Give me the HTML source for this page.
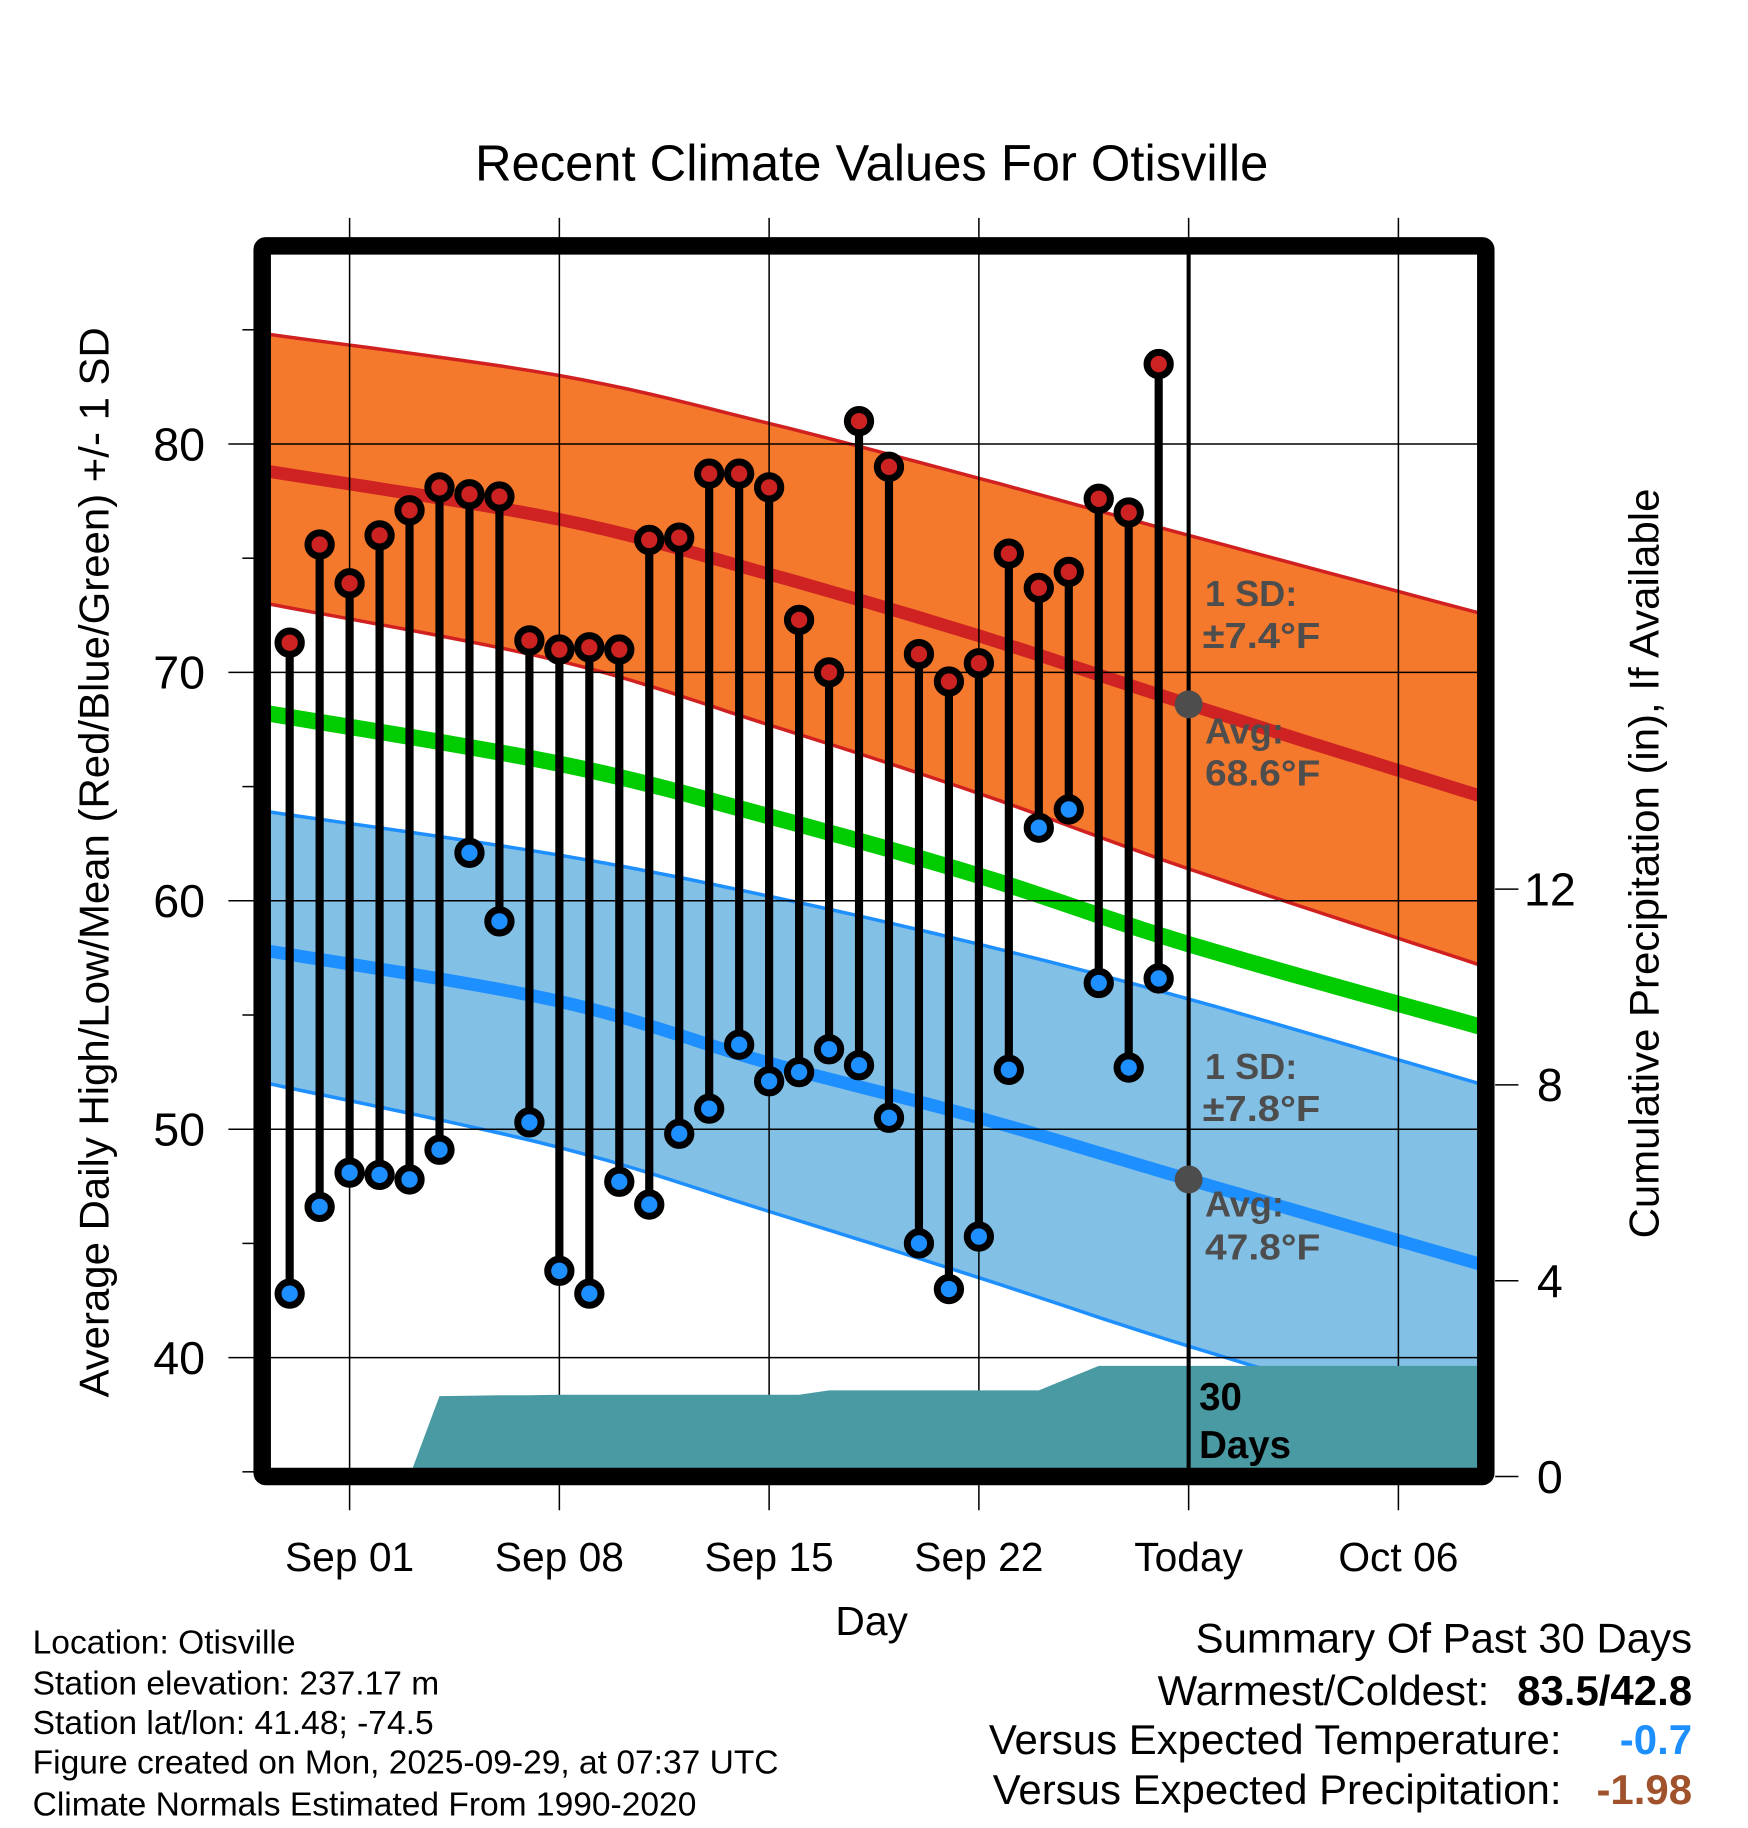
<!DOCTYPE html>
<html><head><meta charset="utf-8"><style>
html,body{margin:0;padding:0;background:#fff;}
svg{display:block;font-family:"Liberation Sans",Arial,sans-serif;}
</style></head><body>
<svg id="chart" width="1748" height="1828" viewBox="0 0 1500 1568.65" xmlns="http://www.w3.org/2000/svg">
<rect x="0" y="0" width="1500" height="1568.65" fill="#fff"/>
<g id="bands"></g><g id="grid"></g><g id="precip"></g><g id="lines"></g><g id="stems"></g><g id="labels"></g><g id="frame"></g>
</svg>
<script>
// ---- data ----
const dayOffsets = [-2,-1,0,1,2,3,4,5,6,7,8,9,10,11,12,13,14,15,16,17,18,19,20,21,22,23,24,25,26,27];
const highs = [71.3,75.6,73.9,76.0,77.1,78.1,77.8,77.7,71.4,71.0,71.1,71.0,75.8,75.9,78.7,78.7,78.1,72.3,70.0,81.0,79.0,70.8,69.6,70.4,75.2,73.7,74.4,77.6,77.0,83.5];
const lows = [42.8,46.6,48.1,48.0,47.8,49.1,62.1,59.1,50.3,43.8,42.8,47.7,46.7,49.8,50.9,53.7,52.1,52.5,53.5,52.8,50.5,45.0,43.0,45.3,52.6,63.2,64.0,56.4,52.7,56.6];
const precipCum = [0,0,0,0,0,1.64,1.65,1.66,1.66,1.67,1.67,1.67,1.67,1.67,1.67,1.67,1.67,1.67,1.76,1.76,1.76,1.76,1.76,1.76,1.76,1.76,2.01,2.26,2.26,2.26];
const normalDays = [-2.7,7,14,21,28,37.7];
const normHighUpper = [84.8,83.0,80.9,78.5,76.0,72.6];
const normHigh = [78.8,76.7,74.3,71.6,68.6,64.6];
const normHighLower = [73.0,70.5,67.7,64.7,61.4,57.2];
const normMean = [68.2,66.0,63.7,61.1,58.1,54.5];
const normLowUpper = [63.9,62.0,60.2,58.1,55.7,52.0];
const normLow = [57.8,55.6,52.9,50.5,47.8,44.1];
const normLowLower = [52.0,49.2,46.4,43.5,40.5,36.7];
const xTickDays = [0,7,14,21,28,35];
const xTickLabels = ["Sep 01","Sep 08","Sep 15","Sep 22","Today","Oct 06"];
const yTicks = [40,50,60,70,80];
const yMinorTicks = [35,45,55,65,75,85];
const precipTicks = [0,4,8,12];

// ---- axes ----
const PL=232,PR=1268,PT=218,PB=1260;
const x = d => 300 + d*180/7;
const y = v => 381 + (80-v)*19.6;
const yp = p => 1267 - p*42;
const NS="http://www.w3.org/2000/svg";
function mk(tag, attrs, parent){const e=document.createElementNS(NS,tag);for(const k in attrs)e.setAttribute(k,attrs[k]);document.getElementById(parent).appendChild(e);return e;}
function clip(){return 'url(#pc)';}
const defs=mk('defs',{},'chart');
const cp=document.createElementNS(NS,'clipPath');cp.setAttribute('id','pc');
const cr=document.createElementNS(NS,'rect');cr.setAttribute('x',PL);cr.setAttribute('y',PT);cr.setAttribute('width',PR-PL);cr.setAttribute('height',PB-PT);cp.appendChild(cr);defs.appendChild(cp);
document.getElementById('chart').insertBefore(defs,document.getElementById('bands'));

// smooth curve samples (Catmull-Rom) through the normal points
function smooth(arr){
  const P=normalDays.map((d,i)=>[x(d),y(arr[i])]);
  const out=[];
  for(let i=0;i<P.length-1;i++){
    const p0=P[Math.max(0,i-1)],p1=P[i],p2=P[i+1],p3=P[Math.min(P.length-1,i+2)];
    for(let t=0;t<1;t+=0.1){
      const t2=t*t,t3=t2*t;
      const f=(a,b,c,d)=>0.5*((2*b)+(-a+c)*t+(2*a-5*b+4*c-d)*t2+(-a+3*b-3*c+d)*t3);
      out.push([f(p0[0],p1[0],p2[0],p3[0]),f(p0[1],p1[1],p2[1],p3[1])]);
    }
  }
  out.push(P[P.length-1]);
  return out.map(p=>p[0].toFixed(1)+','+p[1].toFixed(1));
}
function band(up,lo,fill,name){
  const p=smooth(up).concat(smooth(lo).reverse()).join(' ');
  const e=mk('polygon',{points:p,fill:fill,'clip-path':clip()},'bands');
  
  
}
band(normHighUpper,normHighLower,'#f5792c','high-sd-band');
band(normLowUpper,normLowLower,'#83c0e6','low-sd-band');
function line(arr,color,w,name){
  const e=mk('polyline',{points:smooth(arr).join(' '),fill:'none',stroke:color,'stroke-width':w,'clip-path':clip()},'bands');
  
  
}
line(normHighUpper,'#d02020',3,'high-upper-line');
line(normHighLower,'#d02020',3,'high-lower-line');
line(normLowUpper,'#1e8fff',3,'low-upper-line');
line(normLowLower,'#1e8fff',3,'low-lower-line');
line(normHigh,'#cf2222',11,'normal-high-line');
line(normMean,'#00cc00',14,'normal-mean-line');
line(normLow,'#1e8fff',11,'normal-low-line');

// grid
yTicks.forEach(v=>{
  const g=mk('line',{x1:196,x2:PR,y1:y(v),y2:y(v),stroke:'#000','stroke-width':1.3},'grid');
  
  
  const t=mk('text',{x:176,y:y(v)+14,'font-size':40,'text-anchor':'end'},'labels');t.textContent=v;
  
  
});
yMinorTicks.forEach(v=>{
  const g=mk('line',{x1:208,x2:218,y1:y(v),y2:y(v),stroke:'#000','stroke-width':1.3},'grid');
  
  
});
xTickDays.forEach((d,i)=>{
  const g=mk('line',{x1:x(d),x2:x(d),y1:187,y2:1296,stroke:'#000','stroke-width':1.3},'grid');
  
  
  const t=mk('text',{x:x(d),y:1348,'font-size':35,'text-anchor':'middle'},'labels');t.textContent=xTickLabels[i];
  
  
});
precipTicks.forEach(p=>{
  const g=mk('line',{x1:1283,x2:1303,y1:yp(p),y2:yp(p),stroke:'#000','stroke-width':1.3},'grid');
  
  
  const t=mk('text',{x:1330,y:yp(p)+14,'font-size':40,'text-anchor':'middle'},'labels');t.textContent=p;
  
  
});

// precip area
let pp=[];
dayOffsets.forEach((d,i)=>pp.push(x(d).toFixed(1)+','+yp(precipCum[i]).toFixed(1)));
pp.push(PR+','+yp(precipCum[precipCum.length-1]).toFixed(1));
pp.push(PR+','+PB);pp.push(x(dayOffsets[0])+','+PB);
const pa=mk('polygon',{points:pp.join(' '),fill:'#4a9aa3','clip-path':clip()},'precip');



// today line
const tl=mk('line',{x1:x(28),x2:x(28),y1:PT,y2:PB,stroke:'#000','stroke-width':3.5},'lines');


[[68.6,'normal-high-dot'],[47.8,'normal-low-dot']].forEach(a=>{
  const c=mk('circle',{cx:x(28),cy:y(a[0]),r:12,fill:'#4d4d4d'},'lines');
  
  
});

// stems
dayOffsets.forEach((d,i)=>{
  const s=mk('line',{x1:x(d),x2:x(d),y1:y(highs[i]),y2:y(lows[i]),stroke:'#000','stroke-width':7},'stems');
  
  
});
dayOffsets.forEach((d,i)=>{
  const h=mk('circle',{cx:x(d),cy:y(highs[i]),r:10,fill:'#cc2222',stroke:'#000','stroke-width':6},'stems');
  
  
  const l=mk('circle',{cx:x(d),cy:y(lows[i]),r:10,fill:'#1e8fff',stroke:'#000','stroke-width':6},'stems');
  
  
});

// frame
const fr=mk('rect',{x:225,y:211,width:1050,height:1056,fill:'none',stroke:'#000','stroke-width':15,rx:3},'frame');


</script>
<svg style="position:absolute;left:0;top:0" width="1748" height="1828" viewBox="0 0 1500 1568.65" xmlns="http://www.w3.org/2000/svg" font-family="Liberation Sans, Arial, sans-serif">
<text x="748" y="155" font-size="43.5" text-anchor="middle">Recent Climate Values For Otisville</text>
<text transform="translate(93,740) rotate(-90)" font-size="36" text-anchor="middle">Average Daily High/Low/Mean (Red/Blue/Green) +/- 1 SD</text>
<text transform="translate(1423,741) rotate(-90)" font-size="36" text-anchor="middle">Cumulative Precipitation (in), If Available</text>
<text x="748" y="1403" font-size="35" text-anchor="middle">Day</text>
<g font-size="31" font-weight="bold" fill="#4d4d4d">
<text x="1034" y="520">1 SD:</text><text x="1032" y="556" textLength="101" lengthAdjust="spacingAndGlyphs">±7.4°F</text>
<text x="1034" y="638">Avg:</text><text x="1034" y="674" textLength="99" lengthAdjust="spacingAndGlyphs">68.6°F</text>
<text x="1034" y="926">1 SD:</text><text x="1032" y="962" textLength="101" lengthAdjust="spacingAndGlyphs">±7.8°F</text>
<text x="1034" y="1044">Avg:</text><text x="1034" y="1081" textLength="99" lengthAdjust="spacingAndGlyphs">47.8°F</text>
</g>
<g font-size="33" font-weight="bold" fill="#000">
<text x="1029" y="1210">30</text><text x="1029" y="1251">Days</text>
</g>
<g font-size="28.8">
<text x="28" y="1419">Location: Otisville</text>
<text x="28" y="1454">Station elevation: 237.17 m</text>
<text x="28" y="1488">Station lat/lon: 41.48; -74.5</text>
<text x="28" y="1522">Figure created on Mon, 2025-09-29, at 07:37 UTC</text>
<text x="28" y="1558">Climate Normals Estimated From 1990-2020</text>
</g>
<g font-size="36">
<text x="1452" y="1418" text-anchor="end">Summary Of Past 30 Days</text>
<text x="1278" y="1463" text-anchor="end">Warmest/Coldest:</text>
<text x="1452" y="1463" text-anchor="end" font-weight="bold">83.5/42.8</text>
<text x="1340" y="1505" text-anchor="end">Versus Expected Temperature:</text>
<text x="1452" y="1505" text-anchor="end" font-weight="bold" fill="#1e8fff">-0.7</text>
<text x="1340" y="1548" text-anchor="end">Versus Expected Precipitation:</text>
<text x="1452" y="1548" text-anchor="end" font-weight="bold" fill="#a0522d">-1.98</text>
</g>
</svg>
</body></html>
